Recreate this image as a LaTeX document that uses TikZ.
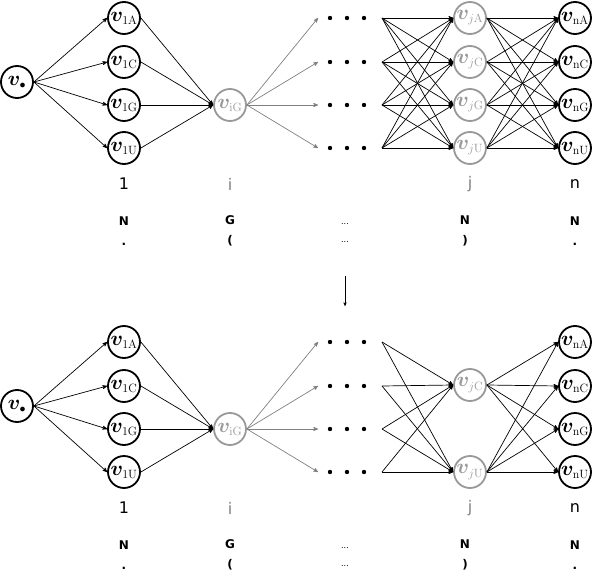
\documentclass[tikz,border=0pt]{standalone}
\usepackage{amsmath}
\usepackage{amssymb}
\usepackage{bm}
\usepackage[no-math]{fontspec}
\setmainfont{DejaVu Sans}
\usetikzlibrary{arrows}

\newcommand{\nsub}[1]{\mbox{\fontsize{13}{14}\selectfont$#1$}}

\begin{document}
\begin{tikzpicture}[->,>=stealth',x=1pt,y=-1pt,line width=0.7pt]

    \tikzstyle{nuc}=[circle,draw=black,line width=1.8pt,fill=white,minimum size=32pt,inner sep=0pt,font=\fontsize{21}{22}\selectfont]
    \tikzstyle{ghost}=[nuc,draw=gray!80,text=gray!80]
    \tikzstyle{layerlbl}=[font=\fontsize{16}{19}\selectfont]
    \tikzstyle{res}=[font=\bfseries\fontsize{12}{20}\selectfont,align=center]
    \tikzstyle{gap}=[font=\fontsize{8}{18}\selectfont,align=center]

    \useasboundingbox (0,0) rectangle (595,570);

    % the part that both graphs share
    \foreach \lay/\dy in {t/0,b/324} {
      \node[nuc] (\lay0) at (17,82+\dy) {$\bm{v}_{\nsub{\bullet}}$};
      \node[ghost] (\lay iG) at (230,105+\dy) {$\bm{v}_{\nsub{\mathrm{iG}}}$};
      \foreach \nt/\y [count=\k] in {A/18,C/62,G/105,U/148} {
        \node[nuc] (\lay1\nt) at (124,\y+\dy) {$\bm{v}_{\nsub{\mathrm{1\nt}}}$};
        \node[nuc] (\lay n\nt) at (575,\y+\dy) {$\bm{v}_{\nsub{\mathrm{n\nt}}}$};
        \coordinate (\lay in\k) at (318,\y+\dy);
        \coordinate (\lay out\k) at (382,\y+\dy);
        \foreach \x in {330,347,364} \fill (\x,\y+\dy) circle (2.2pt);
        \draw (\lay0.east) -- (\lay1\nt.west);
        \draw (\lay1\nt.east) -- (\lay iG.west);
        \draw[gray] (\lay iG.east) -- (\lay in\k);
      }
      \node[layerlbl] (\lay p1) at (124,184+\dy) {1};
      \node[layerlbl,text=gray] (\lay pi) at (230,184+\dy) {i};
      \node[layerlbl,text=gray] (\lay pj) at (470,184+\dy) {j};
      \node[layerlbl] (\lay pn) at (575,184+\dy) {n};
      \node[res] (\lay r1) at (124,231+\dy) {N\\.};
      \node[res] (\lay ri) at (230,231+\dy) {G\\(};
      \node[gap] (\lay rd) at (345,233+\dy) {...\\...};
      \node[res] (\lay rj) at (465,231+\dy) {N\\)};
      \node[res] (\lay rn) at (575,231+\dy) {N\\.};
    }

    % full layer j
    \foreach \nt/\y in {A/18,C/62,G/105,U/148}
      \node[ghost] (tj\nt) at (470,\y) {$\bm{v}_{\nsub{j\mathrm{\nt}}}$};
    \foreach \k in {1,...,4}
      \foreach \nt in {A,C,G,U}
        \draw (tout\k) -- (tj\nt.west);
    \foreach \a in {A,C,G,U}
      \foreach \nt in {A,C,G,U}
        \draw (tj\a.east) -- (tn\nt.west);

    % pruned layer j
    \node[ghost] (bjC) at (470,385) {$\bm{v}_{\nsub{j\mathrm{C}}}$};
    \node[ghost] (bjU) at (470,472) {$\bm{v}_{\nsub{j\mathrm{U}}}$};
    \foreach \k in {1,...,4}
      \foreach \nt in {C,U}
        \draw (bout\k) -- (bj\nt.west);
    \foreach \a in {C,U}
      \foreach \nt in {A,C,G,U}
        \draw (bj\a.east) -- (bn\nt.west);

    \coordinate (down1) at (345,276);
    \coordinate (down2) at (345,306);
    \draw[thin] (down1) -- (down2);

\end{tikzpicture}
\end{document}
